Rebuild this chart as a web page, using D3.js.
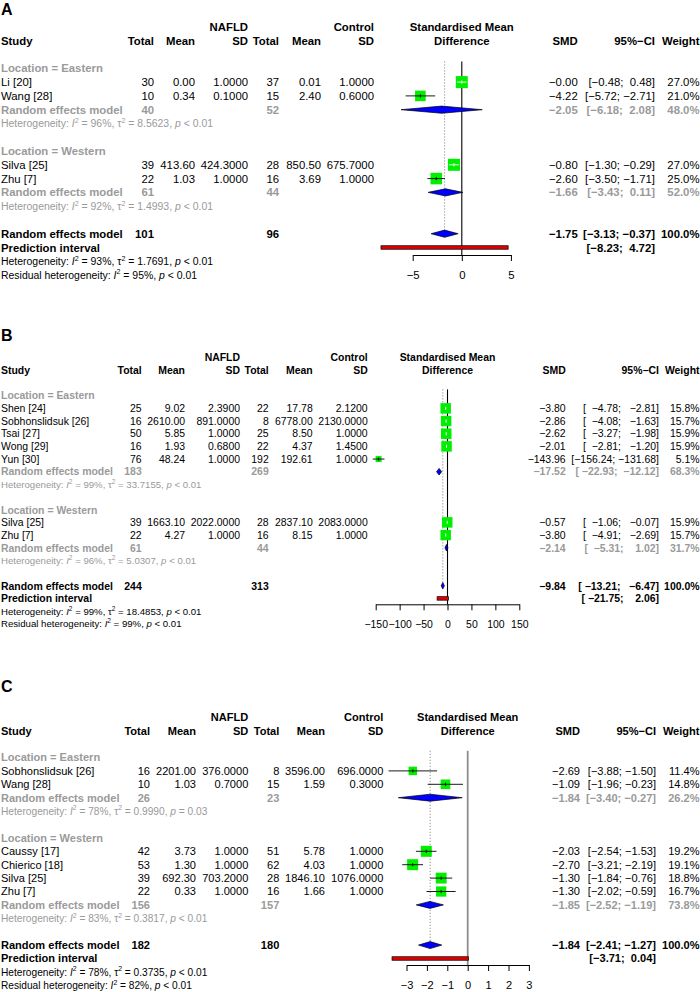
<!DOCTYPE html>
<html><head><meta charset="utf-8">
<script src="https://cdn.jsdelivr.net/npm/d3@7"></script>
<style>
body{margin:0;background:#fff}
svg text{font-family:"Liberation Sans",Arial,Helvetica,sans-serif;white-space:pre}
</style></head><body>
<svg id="c" width="700" height="992"></svg>
<script>
// ================= DATA : Panel A =================
const studyA = ["Li [20]","Wang [28]","Silva [25]","Zhu [7]"];
const locA = ["Eastern","Eastern","Western","Western"];
const nafldTotalA = [30,10,39,22];
const nafldMeanA = [0.00,0.34,413.60,1.03];
const nafldSdA = [1.0,0.1,424.3,1.0];
const ctrlTotalA = [37,15,28,16];
const ctrlMeanA = [0.01,2.40,850.50,3.69];
const ctrlSdA = [1.0,0.6,675.7,1.0];
const smdA = [-0,-4.22,-0.80,-2.60];
const lowerA = [-0.48,-5.72,-1.30,-3.50];
const upperA = [0.48,-2.71,-0.29,-1.71];
const weightA = [27.0,21.0,27.0,25.0];
const subLocA = ["Eastern","Western"];
const subNafldA = [40,61];
const subCtrlA = [52,44];
const subSmdA = [-2.05,-1.66];
const subLowerA = [-6.18,-3.43];
const subUpperA = [2.08,0.11];
const subWeightA = [48.0,52.0];
const subI2A = [96,92];
const subTau2A = ["8.5623","1.4993"];
const subPA = ["< 0.01","< 0.01"];
const overallA = [101,96,-1.75,-3.13,-0.37,100.0];
const predA = [-8.23,4.72];
const hetA = [93,"1.7691","< 0.01"];
const residA = [95,"< 0.01"];
const ticksA = [-5,0,5];

// ================= DATA : Panel B =================
const studyB = ["Shen [24]","Sobhonslidsuk [26]","Tsai [27]","Wong [29]","Yun [30]","Silva [25]","Zhu [7]"];
const locB = ["Eastern","Eastern","Eastern","Eastern","Eastern","Western","Western"];
const nafldTotalB = [25,16,50,16,76,39,22];
const nafldMeanB = [9.02,2610.00,5.85,1.93,48.24,1663.10,4.27];
const nafldSdB = [2.39,891.0,1.0,0.68,1.0,2022.0,1.0];
const ctrlTotalB = [22,8,25,22,192,28,16];
const ctrlMeanB = [17.78,6778.00,8.50,4.37,192.61,2837.10,8.15];
const ctrlSdB = [2.12,2130.0,1.0,1.45,1.0,2083.0,1.0];
const smdB = [-3.80,-2.86,-2.62,-2.01,-143.96,-0.57,-3.80];
const lowerB = [-4.78,-4.08,-3.27,-2.81,-156.24,-1.06,-4.91];
const upperB = [-2.81,-1.63,-1.98,-1.20,-131.68,-0.07,-2.69];
const weightB = [15.8,15.7,15.9,15.9,5.1,15.9,15.7];
const subLocB = ["Eastern","Western"];
const subNafldB = [183,61];
const subCtrlB = [269,44];
const subSmdB = [-17.52,-2.14];
const subLowerB = [-22.93,-5.31];
const subUpperB = [-12.12,1.02];
const subWeightB = [68.3,31.7];
const subI2B = [99,96];
const subTau2B = ["33.7155","5.0307"];
const subPB = ["< 0.01","< 0.01"];
const overallB = [244,313,-9.84,-13.21,-6.47,100.0];
const predB = [-21.75,2.06];
const hetB = [99,"18.4853","< 0.01"];
const residB = [99,"< 0.01"];
const ticksB = [-150,-100,-50,0,50,100,150];

// ================= DATA : Panel C =================
const studyC = ["Sobhonslidsuk [26]","Wang [28]","Caussy [17]","Chierico [18]","Silva [25]","Zhu [7]"];
const locC = ["Eastern","Eastern","Western","Western","Western","Western"];
const nafldTotalC = [16,10,42,53,39,22];
const nafldMeanC = [2201.00,1.03,3.73,1.30,692.30,0.33];
const nafldSdC = [376.0,0.7,1.0,1.0,703.2,1.0];
const ctrlTotalC = [8,15,51,62,28,16];
const ctrlMeanC = [3596.00,1.59,5.78,4.03,1846.10,1.66];
const ctrlSdC = [696.0,0.3,1.0,1.0,1076.0,1.0];
const smdC = [-2.69,-1.09,-2.03,-2.70,-1.30,-1.30];
const lowerC = [-3.88,-1.96,-2.54,-3.21,-1.84,-2.02];
const upperC = [-1.50,-0.23,-1.53,-2.19,-0.76,-0.59];
const weightC = [11.4,14.8,19.2,19.1,18.8,16.7];
const subLocC = ["Eastern","Western"];
const subNafldC = [26,156];
const subCtrlC = [23,157];
const subSmdC = [-1.84,-1.85];
const subLowerC = [-3.40,-2.52];
const subUpperC = [-0.27,-1.19];
const subWeightC = [26.2,73.8];
const subI2C = [78,83];
const subTau2C = ["0.9990","0.3817"];
const subPC = ["= 0.03","< 0.01"];
const overallC = [182,180,-1.84,-2.41,-1.27,100.0];
const predC = [-3.71,0.04];
const hetC = [78,"0.3735","< 0.01"];
const residC = [82,"< 0.01"];
const ticksC = [-3,-2,-1,0,1,2,3];

// ================= tables built from arrays =================
const mk = (s,l,nt,nm,ns,ct,cm,cs,smd,lo,up,w,sl,sn,sc,ss,slo,sup,sw,si,st,sp,ov,pr,he,re,tk) =>
  ({study:s,loc:l,nT:nt,nM:nm,nS:ns,cT:ct,cM:cm,cS:cs,smd,lo,up,w,subLoc:sl,subN:sn,subC:sc,subSmd:ss,subLo:slo,subUp:sup,subW:sw,subI2:si,subTau:st,subP:sp,overall:ov,pred:pr,het:he,resid:re,ticks:tk});
const tableA = mk(studyA,locA,nafldTotalA,nafldMeanA,nafldSdA,ctrlTotalA,ctrlMeanA,ctrlSdA,smdA,lowerA,upperA,weightA,subLocA,subNafldA,subCtrlA,subSmdA,subLowerA,subUpperA,subWeightA,subI2A,subTau2A,subPA,overallA,predA,hetA,residA,ticksA);
const tableB = mk(studyB,locB,nafldTotalB,nafldMeanB,nafldSdB,ctrlTotalB,ctrlMeanB,ctrlSdB,smdB,lowerB,upperB,weightB,subLocB,subNafldB,subCtrlB,subSmdB,subLowerB,subUpperB,subWeightB,subI2B,subTau2B,subPB,overallB,predB,hetB,residB,ticksB);
const tableC = mk(studyC,locC,nafldTotalC,nafldMeanC,nafldSdC,ctrlTotalC,ctrlMeanC,ctrlSdC,smdC,lowerC,upperC,weightC,subLocC,subNafldC,subCtrlC,subSmdC,subLowerC,subUpperC,subWeightC,subI2C,subTau2C,subPC,overallC,predC,hetC,residC,ticksC);

// ================= layout =================
const layoutA = {label:"A", labelY:15, y0:27, dy:13.78, fs:11.35, axisY:255, range:[412.7,510.9],
  cols:{study:1,nT:154,nM:195,nS:248,cT:279,cM:321,cS:374,smd:577.7,ci:655,w:699.5}, zeroColor:"#000", zeroW:1.1, boxMax:12};
const layoutB = {label:"B", labelY:341, y0:357.7, dy:12.67, fs:10.45, axisY:604.3, range:[375.7,519.3],
  cols:{study:1,nT:141.7,nM:185,nS:240,cT:268.7,cM:312.7,cS:367.7,smd:565.7,ci:659,w:699.5}, zeroColor:"#000", zeroW:1.1, boxMax:10.5};
const layoutC = {label:"C", labelY:691.5, y0:717.3, dy:13.4, fs:11.05, axisY:965, range:[406.5,528.9],
  cols:{study:1,nT:150,nM:196,nS:248.3,cT:279.3,cM:325,cS:383.3,smd:580,ci:656,w:699.5}, zeroColor:"#8c8c8c", zeroW:1.8, boxMax:11};

const GREY = "#9a9a9a";
const NB = "\u00A0";
const svg = d3.select("#c");

function f(v,d){ const neg = v<0 || Object.is(v,-0); return (neg?"\u2212":"") + Math.abs(v).toFixed(d); }
function padL(s,n){ return NB.repeat(Math.max(0,n-s.length)) + s; }

function T(g,x,y,s,o){
  o = o||{};
  return g.append("text").attr("x",x).attr("y",y+0.36*o.fs)
    .attr("font-size",o.fs).attr("text-anchor",o.anchor||"start")
    .attr("fill",o.color||"#000").attr("font-weight",o.bold?"bold":"normal")
    .text(String(s).replace(/ /g,NB));
}

function hetText(g,x,y,fs,color,prefix,i2,tau,p){
  const t = g.append("text").attr("x",x).attr("y",y+0.36*fs).attr("font-size",fs).attr("fill",color);
  const parts = [[prefix,"n"],["I","i"],["2","s"],[" = "+i2+"%","n"]];
  if (tau!==null){ parts.push([", ","n"],["\u03C4","n"],["2","s"],[" = "+tau,"n"]); }
  parts.push([", ","n"],["p","i"],[" "+p,"n"]);
  let shift = 0;
  parts.forEach(([s,k])=>{
    const target = k==="s" ? -0.42*fs : 0;
    const ts = t.append("tspan").attr("dy",target-shift).text(s.replace(/ /g,NB));
    if (k==="s") ts.attr("font-size",fs*0.68);
    if (k==="i") ts.attr("font-style","italic");
    shift = target;
  });
}

function drawPanel(P,L){
  const g = svg.append("g");
  const x = d3.scaleLinear().domain(d3.extent(P.ticks)).range(L.range);
  const Y = k => L.y0 + k*L.dy;
  const fs = L.fs, hfs = fs*0.92, C = L.cols;
  const xc = (L.range[0]+L.range[1])/2;

  g.append("text").attr("x",1).attr("y",L.labelY).attr("font-size",16).attr("font-weight","bold").text(L.label);

  // headers
  const hb = {fs, bold:true, anchor:"end"};
  T(g,C.nS,Y(0),"NAFLD",hb);
  T(g,C.cS,Y(0),"Control",hb);
  T(g,xc,Y(0),"Standardised Mean",{fs,bold:true,anchor:"middle"});
  T(g,C.study,Y(1),"Study",{fs,bold:true});
  [["nT","Total"],["nM","Mean"],["nS","SD"],["cT","Total"],["cM","Mean"],["cS","SD"],["smd","SMD"],["ci","95%\u2212CI"],["w","Weight"]]
    .forEach(([c,s])=>T(g,C[c],Y(1),s,hb));
  T(g,xc,Y(1),"Difference",{fs,bold:true,anchor:"middle"});

  // CI formatting (R-style space padding)
  const los = [...P.lo,...P.subLo,P.overall[3],P.pred[0]].map(v=>f(v,2));
  const ups = [...P.up,...P.subUp,P.overall[4],P.pred[1]].map(v=>f(v,2));
  const loW = d3.max(los,s=>s.length), upW = d3.max(ups,s=>s.length);
  const ci = (lo,up)=>"["+padL(f(lo,2),loW)+";"+NB+padL(f(up,2),upW)+"]";

  // row indices
  let k = 3; const rows = [];
  P.subLoc.forEach((loc,gi)=>{
    const r = {gi, locRow:k++, studies:[]};
    P.study.forEach((s,i)=>{ if(P.loc[i]===loc) r.studies.push({i,k:k++}); });
    r.rem = k++; r.het = k++; k++;
    rows.push(r);
  });
  const kOv = k;

  // reference lines
  const top = Y(2.5);
  g.append("line").attr("x1",x(P.overall[2])).attr("x2",x(P.overall[2])).attr("y1",top).attr("y2",Y(kOv))
    .attr("stroke","#555").attr("stroke-width",0.8).attr("stroke-dasharray","1,2");
  g.append("line").attr("x1",x(0)).attr("x2",x(0)).attr("y1",top).attr("y2",L.axisY)
    .attr("stroke",L.zeroColor).attr("stroke-width",L.zeroW);

  const maxW = d3.max(P.w);
  const diamond = (est,lo,up,y,h)=>{
    g.append("polygon").attr("points",[[x(lo),y],[x(est),y-h],[x(up),y],[x(est),y+h]].map(p=>p.join(",")).join(" "))
      .attr("fill","#0000ff").attr("stroke","#000").attr("stroke-width",0.7);
  };
  const dh = 0.26*L.dy;

  rows.forEach(r=>{
    const gi = r.gi;
    T(g,C.study,Y(r.locRow),"Location = "+P.subLoc[gi],{fs,bold:true,color:GREY});
    r.studies.forEach(({i,k})=>{
      const y = Y(k), o = {fs,anchor:"end"};
      T(g,C.study,y,P.study[i],{fs});
      T(g,C.nT,y,P.nT[i],o); T(g,C.nM,y,f(P.nM[i],2),o); T(g,C.nS,y,f(P.nS[i],4),o);
      T(g,C.cT,y,P.cT[i],o); T(g,C.cM,y,f(P.cM[i],2),o); T(g,C.cS,y,f(P.cS[i],4),o);
      T(g,C.smd,y,f(P.smd[i],2),o); T(g,C.ci,y,ci(P.lo[i],P.up[i]),o); T(g,C.w,y,P.w[i].toFixed(1)+"%",o);
      // box + CI
      const cx = x(P.smd[i]), side = L.boxMax*Math.sqrt(P.w[i]/maxW);
      g.append("rect").attr("x",cx-side/2).attr("y",y-side/2).attr("width",side).attr("height",side).attr("fill","#00ee00");
      const inside = x(P.lo[i])>=cx-side/2 && x(P.up[i])<=cx+side/2;
      const lc = inside ? "#fff" : "#000";
      g.append("line").attr("x1",x(P.lo[i])).attr("x2",x(P.up[i])).attr("y1",y).attr("y2",y).attr("stroke",lc).attr("stroke-width",0.9);
      g.append("line").attr("x1",cx).attr("x2",cx).attr("y1",y-1.6).attr("y2",y+1.6).attr("stroke",lc).attr("stroke-width",0.9);
    });
    const y = Y(r.rem), o = {fs,anchor:"end",bold:true,color:GREY};
    T(g,C.study,y,"Random effects model",{fs,bold:true,color:GREY});
    T(g,C.nT,y,P.subN[gi],o); T(g,C.cT,y,P.subC[gi],o);
    T(g,C.smd,y,f(P.subSmd[gi],2),o); T(g,C.ci,y,ci(P.subLo[gi],P.subUp[gi]),o); T(g,C.w,y,P.subW[gi].toFixed(1)+"%",o);
    diamond(P.subSmd[gi],P.subLo[gi],P.subUp[gi],y,dh);
    hetText(g,C.study,Y(r.het),hfs,GREY,"Heterogeneity: ",P.subI2[gi],P.subTau[gi],P.subP[gi]);
  });

  // overall
  const yo = Y(kOv), ob = {fs,anchor:"end",bold:true};
  T(g,C.study,yo,"Random effects model",{fs,bold:true});
  T(g,C.nT,yo,P.overall[0],ob); T(g,C.cT,yo,P.overall[1],ob);
  T(g,C.smd,yo,f(P.overall[2],2),ob); T(g,C.ci,yo,ci(P.overall[3],P.overall[4]),ob); T(g,C.w,yo,P.overall[5].toFixed(1)+"%",ob);
  diamond(P.overall[2],P.overall[3],P.overall[4],yo,dh);
  const yp = Y(kOv+1);
  T(g,C.study,yp,"Prediction interval",{fs,bold:true});
  T(g,C.ci,yp,ci(P.pred[0],P.pred[1]),ob);
  g.append("rect").attr("x",x(P.pred[0])).attr("y",yp-1.75).attr("width",x(P.pred[1])-x(P.pred[0])).attr("height",3.5)
    .attr("fill","#e00000").attr("stroke","#000").attr("stroke-width",0.7);
  hetText(g,C.study,Y(kOv+2),hfs,"#000","Heterogeneity: ",P.het[0],P.het[1],P.het[2]);
  hetText(g,C.study,Y(kOv+3),hfs,"#000","Residual heterogeneity: ",P.resid[0],null,P.resid[1]);

  // axis
  const ax = g.append("g").attr("transform",`translate(0,${L.axisY})`)
    .call(d3.axisBottom(x).tickValues(P.ticks).tickFormat(d3.format("d")).tickSize(6).tickSizeOuter(0).tickPadding(10));
  ax.attr("font-family",null).attr("font-size",null);
  ax.selectAll("text").attr("font-size",fs).attr("fill","#000");
  ax.selectAll("line,path").attr("stroke","#000").attr("stroke-width",1);
}

drawPanel(tableA,layoutA);
drawPanel(tableB,layoutB);
drawPanel(tableC,layoutC);
</script>
</body></html>
